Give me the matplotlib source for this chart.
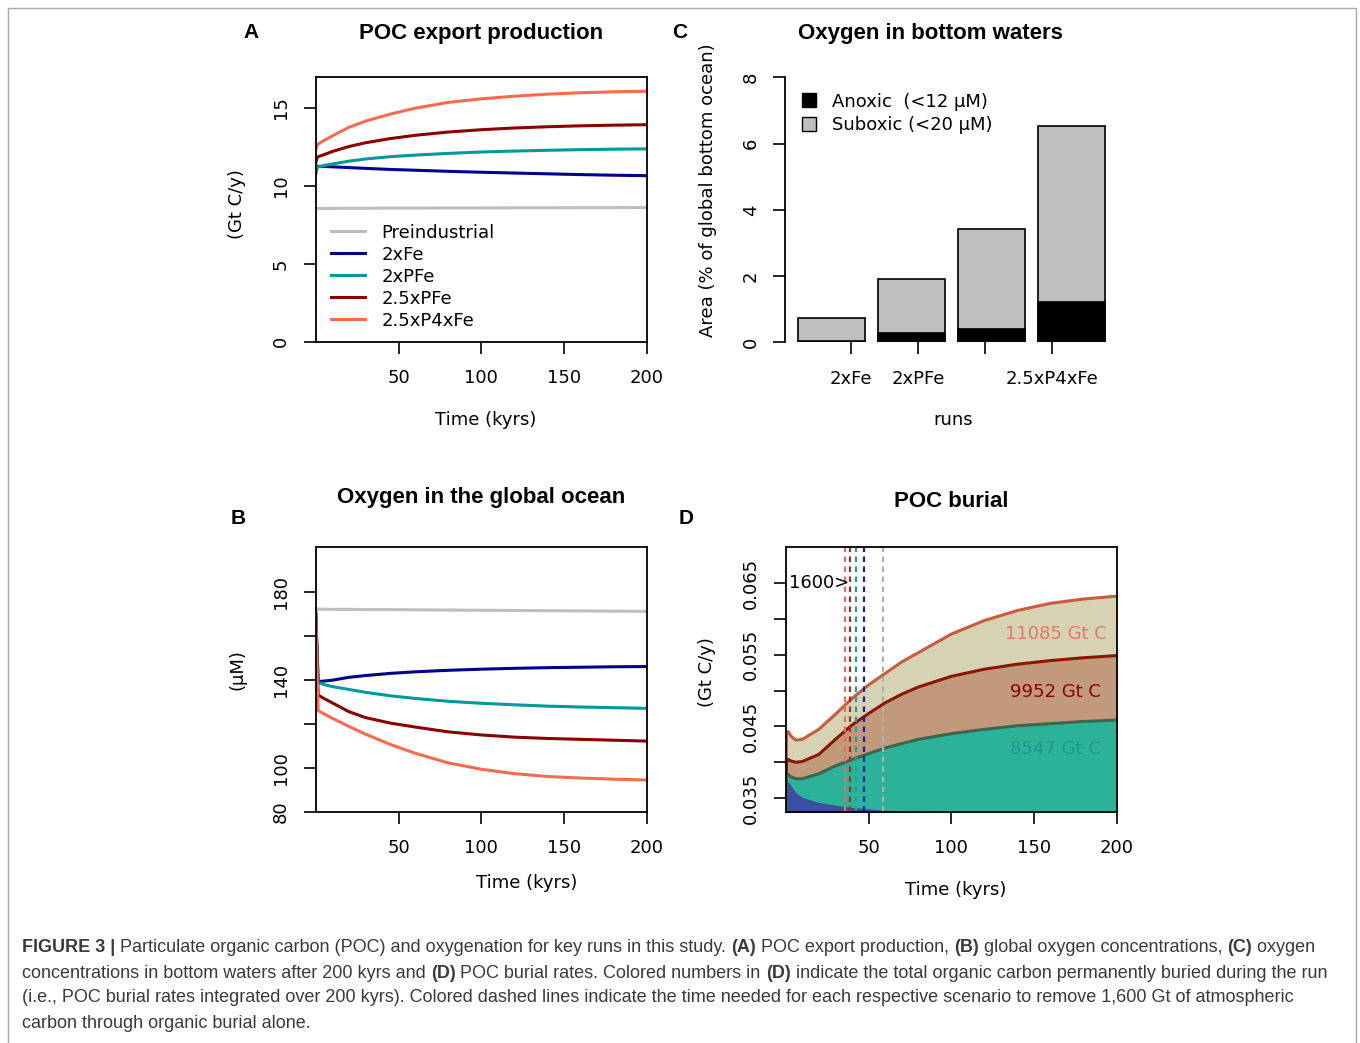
import numpy as np
import matplotlib.pyplot as plt
from matplotlib.patches import Patch, Rectangle

# ---- data ----
runs = ['Preindustrial', '2xFe', '2xPFe', '2.5xPFe', '2.5xP4xFe']
run_colors = ['#bebebe', '#00008b', '#009a98', '#8b0000', '#f86a4f']

# (A) POC export production (Gt C/y)
t_export = [0, 1, 5, 10, 20, 30, 45, 60, 80, 100, 120, 140, 160, 180, 200]
export_pre = [8.55, 8.55, 8.55, 8.55, 8.56, 8.56, 8.57, 8.57, 8.58, 8.58, 8.59, 8.59, 8.60, 8.60, 8.61]
export_2xFe = [11.0, 11.25, 11.24, 11.22, 11.17, 11.12, 11.05, 11.0, 10.93, 10.87, 10.82, 10.77, 10.72, 10.68, 10.65]
export_2xPFe = [10.7, 11.2, 11.3, 11.4, 11.58, 11.72, 11.87, 11.97, 12.08, 12.17, 12.23, 12.28, 12.32, 12.35, 12.37]
export_25xPFe = [11.45, 11.85, 12.0, 12.2, 12.52, 12.76, 13.03, 13.24, 13.45, 13.6, 13.71, 13.79, 13.85, 13.89, 13.92]
export_25xP4xFe = [12.3, 12.65, 12.9, 13.2, 13.75, 14.15, 14.6, 14.98, 15.35, 15.58, 15.75, 15.88, 15.97, 16.03, 16.07]

# (B) oxygen in the global ocean (uM)
t_oxygen = [0, 1.5, 5, 10, 20, 30, 45, 60, 80, 100, 120, 140, 160, 180, 200]
oxy_pre = [172.1, 172.1, 172.1, 172.0, 172.0, 171.9, 171.9, 171.8, 171.7, 171.6, 171.5, 171.4, 171.3, 171.2, 171.1]
oxy_2xFe = [170.5, 139.2, 139.4, 139.8, 141.1, 141.9, 142.9, 143.6, 144.3, 144.8, 145.2, 145.5, 145.7, 145.9, 146.0]
oxy_2xPFe = [170.5, 138.8, 137.8, 136.9, 135.6, 134.3, 132.7, 131.5, 130.2, 129.3, 128.6, 128.0, 127.6, 127.3, 127.0]
oxy_25xPFe = [170.0, 133.0, 131.5, 129.5, 125.5, 122.8, 120.3, 118.5, 116.3, 114.9, 113.9, 113.3, 112.9, 112.5, 112.1]
oxy_25xP4xFe = [169.0, 126.0, 124.5, 122.5, 118.8, 115.3, 110.6, 106.6, 102.2, 99.3, 97.3, 96.0, 95.3, 94.8, 94.4]

# (C) area of bottom ocean after 200 kyrs (%)
bar_runs = ['2xFe', '2xPFe', '2.5xPFe', '2.5xP4xFe']
anoxic = [0.05, 0.27, 0.40, 1.23]
suboxic = [0.72, 1.90, 3.42, 6.54]

# (D) POC burial (Gt C/y)
t_burial = [0, 0.5, 1.5, 3, 6, 10, 20, 30, 40, 50, 60, 70, 80, 100, 120, 140, 160, 180, 200]
burial_2xFe = [0.0340, 0.0370, 0.0373, 0.0368, 0.0358, 0.0351, 0.0344, 0.0340, 0.0337, 0.0335,
               0.0333, 0.0332, 0.0331, 0.0330, 0.0329, 0.0329, 0.0328, 0.0328, 0.0328]
burial_2xPFe = [0.0340, 0.0380, 0.0383, 0.0380, 0.0377, 0.0377, 0.0384, 0.0395, 0.0404, 0.0412,
                0.0420, 0.0426, 0.0432, 0.0440, 0.0446, 0.0451, 0.0454, 0.0457, 0.0459]
burial_25xPFe = [0.0345, 0.0400, 0.0404, 0.0402, 0.0400, 0.0401, 0.0411, 0.0432, 0.0452, 0.0468,
                 0.0483, 0.0495, 0.0505, 0.0520, 0.0530, 0.0537, 0.0542, 0.0546, 0.0549]
burial_25xP4xFe = [0.0345, 0.0440, 0.0443, 0.0437, 0.0431, 0.0432, 0.0446, 0.0467, 0.0489, 0.0508,
                   0.0524, 0.0540, 0.0553, 0.0579, 0.0598, 0.0612, 0.0622, 0.0628, 0.0632]
burial_totals = ['11085 Gt C', '9952 Gt C', '8547 Gt C']
# time to bury 1600 Gt C: 2.5xP4xFe, 2.5xPFe, 2xPFe, 2xFe, Preindustrial
t_1600 = [35.8, 38.8, 42.3, 47.3, 58.6]

time_ticks = [50, 100, 150, 200]
a_yticks = [0, 5, 10, 15]
b_yticks = [80, 100, 120, 140, 160, 180]
b_ylabels = ['80', '100', '', '140', '', '180']
c_yticks = [0, 2, 4, 6, 8]
d_yticks = [0.035, 0.040, 0.045, 0.050, 0.055, 0.060, 0.065]
d_ylabels = ['0.035', '', '0.045', '', '0.055', '', '0.065']

W, H = 1360, 1043
plt.rcParams['font.family'] = ['DejaVu Sans']
plt.rcParams['font.size'] = 13

fig = plt.figure(figsize=(W / 100, H / 100), dpi=100)


def px_axes(left, top, right, bottom):
    return fig.add_axes([left / W, 1 - bottom / H, (right - left) / W, (bottom - top) / H])


def style_axes(ax):
    for s in ax.spines.values():
        s.set_linewidth(1.3)
    ax.tick_params(direction='out', length=8.6, width=1.2, labelsize=13)
    ax.tick_params(axis='x', pad=11)
    ax.tick_params(axis='y', pad=10, labelrotation=90)
    for lbl in ax.get_yticklabels():
        lbl.set_va('center')


def place_labels(ax, xl, yl, xpos, ypos):
    ax.set_xlabel(xl, fontsize=13)
    ax.set_ylabel(yl, fontsize=13)
    ax.xaxis.set_label_coords(*xpos)
    ax.yaxis.set_label_coords(*ypos)
    ax.xaxis.label.set_va('center')
    ax.yaxis.label.set_va('center')


# ---- A ----
axA = px_axes(315.7, 76.7, 647, 341.7)
export_series = [export_pre, export_2xFe, export_2xPFe, export_25xPFe, export_25xP4xFe]
for vals, c, name in zip(export_series, run_colors, runs):
    axA.plot(t_export, vals, color=c, lw=2.2, label=name)
axA.set_xlim(0, 200)
axA.set_ylim(0, 17)
axA.set_xticks(time_ticks)
axA.set_yticks(a_yticks)
style_axes(axA)
place_labels(axA, 'Time (kyrs)', '(Gt C/y)', (0.514, -0.295), (-0.2375, 0.52))
axA.legend(loc='upper left', bbox_to_anchor=(0.045, 0.445), frameon=False, fontsize=13,
           handlelength=1.9, handletextpad=0.9, labelspacing=0.22, borderpad=0, borderaxespad=0)

# ---- B ----
axB = px_axes(315.7, 546.7, 647, 811.7)
oxy_series = [oxy_pre, oxy_2xFe, oxy_2xPFe, oxy_25xPFe, oxy_25xP4xFe]
for vals, c in zip(oxy_series, run_colors):
    axB.plot(t_oxygen, vals, color=c, lw=2.2)
axB.set_xlim(0, 200)
axB.set_ylim(80, 200.5)
axB.set_xticks(time_ticks)
axB.set_yticks(b_yticks)
axB.set_yticklabels(b_ylabels)
style_axes(axB)
place_labels(axB, 'Time (kyrs)', '(µM)', (0.638, -0.269), (-0.2375, 0.535))

# ---- C ----
axC = px_axes(785.5, 77.3, 1117.5, 342.3)
bar_pos = 0.7 + 1.2 * np.arange(len(bar_runs))
axC.bar(bar_pos, suboxic, width=1, color='#bebebe', edgecolor='black', lw=1.2)
axC.bar(bar_pos, anoxic, width=1, color='black', edgecolor='black', lw=1.2)
axC.set_xlim(0.016, 4.984)
axC.set_ylim(0, 8)
axC.set_xticks(np.arange(1, len(bar_runs) + 1))
# R drops the 2.5xPFe tick label because it would overlap
axC.set_xticklabels([r if r != '2.5xPFe' else '' for r in bar_runs])
axC.set_yticks(c_yticks)
for s in ['top', 'right', 'bottom']:
    axC.spines[s].set_visible(False)
axC.spines['left'].set_bounds(0, 8)
style_axes(axC)
place_labels(axC, 'runs', 'Area (% of global bottom ocean)', (0.505, -0.293), (-0.233, 0.575))
axC.legend(handles=[Patch(facecolor='black', edgecolor='black', label='Anoxic  (<12 µM)'),
                    Patch(facecolor='#bebebe', edgecolor='black', label='Suboxic (<20 µM)')],
           loc='upper left', bbox_to_anchor=(0.049, 0.942), frameon=False, fontsize=13,
           handlelength=0.8, handleheight=0.8, handletextpad=0.9, labelspacing=0.3,
           borderpad=0, borderaxespad=0)

# ---- D ----
axD = px_axes(785.7, 546.7, 1117, 811.7)
fill_cols = ['#d5d3b3', '#c19a7c', '#2bb299', '#3a4f9f']
edge_cols = ['#cc5a3c', '#8b1500', '#3d6650']
burial_series = [burial_25xP4xFe, burial_25xPFe, burial_2xPFe, burial_2xFe]
for vals, fc in zip(burial_series, fill_cols):
    axD.fill_between(t_burial, 0, vals, color=fc, lw=0)
for vals, ec in zip(burial_series, edge_cols):
    axD.plot(t_burial, vals, color=ec, lw=2.2)
dash_cols = ['#e07060', '#a03020', '#20a0a0', '#1020b0', '#b0b0b0']
for tv, c in zip(t_1600, dash_cols):
    axD.axvline(tv, color=c, lw=1.6, ls=(0, (2.5, 2)))
axD.text(2, 0.065, '1600>', ha='left', va='center', fontsize=13)
for txt, c, yv in zip(burial_totals, ['#e07a62', '#8b0000', '#1a9a8f'], [0.05793, 0.04984, 0.04189]):
    axD.text(162.9, yv, txt, ha='center', va='center', color=c, fontsize=13)
axD.set_xlim(0, 200)
axD.set_ylim(0.0331, 0.0701)
axD.set_xticks(time_ticks)
axD.set_yticks(d_yticks)
axD.set_yticklabels(d_ylabels)
style_axes(axD)
place_labels(axD, 'Time (kyrs)', '(Gt C/y)', (0.514, -0.295), (-0.2375, 0.527))

# ---- titles and panel letters ----
bold = dict(family='Liberation Sans', fontweight='bold', ha='center', va='center')
for txt, x, y in [('POC export production', 481, 33), ('Oxygen in bottom waters', 930, 33),
                  ('Oxygen in the global ocean', 481, 498), ('POC burial', 951, 502)]:
    fig.text(x / W, 1 - y / H, txt, fontsize=16, **bold)
for txt, x, y in [('A', 251, 33), ('C', 680, 33), ('B', 238, 518), ('D', 686, 518)]:
    fig.text(x / W, 1 - y / H, txt, fontsize=15, **bold)

# ---- caption ----
caption = [
    [('FIGURE 3 | ', True), ('Particulate organic carbon (POC) and oxygenation for key runs in this study. ', False),
     ('(A)', True), (' POC export production, ', False), ('(B)', True),
     (' global oxygen concentrations, ', False), ('(C)', True), (' oxygen', False)],
    [('concentrations in bottom waters after 200 kyrs and ', False), ('(D)', True),
     (' POC burial rates. Colored numbers in ', False), ('(D)', True),
     (' indicate the total organic carbon permanently buried during the run', False)],
    [('(i.e., POC burial rates integrated over 200 kyrs). Colored dashed lines indicate the time needed '
      'for each respective scenario to remove 1,600 Gt of atmospheric', False)],
    [('carbon through organic burial alone.', False)],
]
renderer = fig.canvas.get_renderer()
for i, line in enumerate(caption):
    x = 22.0
    y = 948 + 25 * i
    for txt, b in line:
        t = fig.text(x / W, 1 - y / H, txt, fontsize=13, family='Liberation Sans',
                     fontweight='bold' if b else 'normal', color='#3a3a3a', ha='left', va='center')
        x += t.get_window_extent(renderer).width

fig.add_artist(Rectangle((8 / W, -0.01), (1356 - 8) / W, 1 - 8 / H + 0.01, transform=fig.transFigure,
                         fill=False, edgecolor='#a8a8a8', lw=1))

fig.savefig('out.png', dpi=100)
